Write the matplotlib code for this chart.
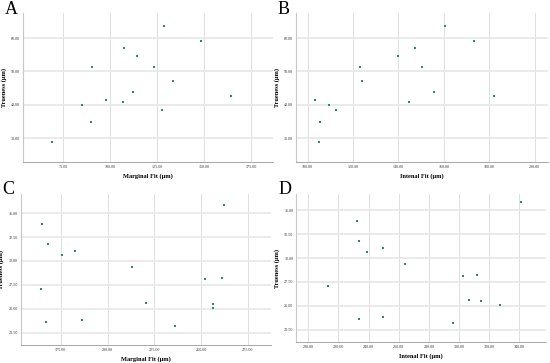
import matplotlib
matplotlib.use("Agg")
import matplotlib.pyplot as plt
from matplotlib.ticker import FixedLocator, FormatStrFormatter

# ---- data ----
trueness_ab = [28.7, 34.9, 38.3, 39.8, 40.9, 41.5, 42.6, 43.7, 47.1, 51.2, 51.2, 54.5, 57.1, 59.2, 63.6]
marginal_a = [68.8, 89.7, 127.5, 84.9, 106.7, 98.0, 164.2, 112.4, 133.7, 90.1, 123.4, 114.4, 107.6, 148.2, 128.4]
internal_b = [104.9, 105.3, 112.4, 109.3, 144.6, 103.2, 182.1, 155.6, 124.1, 123.1, 150.3, 139.7, 147.1, 173.4, 160.4]

trueness_cd = [33.85, 31.75, 30.64, 31.05, 27.04, 23.62, 23.83, 29.41, 25.64, 23.23, 28.12, 28.23, 25.50, 25.12, 35.84]
marginal_c = [164.8, 168.2, 175.4, 182.5, 164.5, 167.0, 186.4, 213.0, 220.6, 236.1, 252.0, 261.1, 256.3, 256.3, 262.2]
internal_d = [232.3, 233.4, 238.8, 249.4, 212.8, 233.4, 249.4, 264.0, 306.5, 296.3, 302.3, 311.8, 314.3, 327.1, 341.1]

xticks_a = [75, 100, 125, 150, 175]
xticks_b = [100, 120, 140, 160, 180, 200]
xticks_c = [175, 200, 225, 250, 275]
xticks_d = [200, 220, 240, 260, 280, 300, 320, 340]
yticks_ab = [30, 40, 50, 60]
yticks_cd = [22.5, 25.0, 27.5, 30.0, 32.5, 35.0]

panels = [
    dict(letter="A", x=marginal_a, y=trueness_ab, xl="Marginal Fit (μm)", xt=xticks_a, yt=yticks_ab,
         xlim=(53.4, 186.7), ylim=(22.8, 67.5), rect=(22.7, 13, 273, 162)),
    dict(letter="B", x=internal_b, y=trueness_ab, xl="Intenal Fit (μm)", xt=xticks_b, yt=yticks_ab,
         xlim=(94.9, 205.9), ylim=(22.8, 67.5), rect=(296, 13, 548, 162)),
    dict(letter="C", x=marginal_c, y=trueness_cd, xl="Marginal Fit (μm)", xt=xticks_c, yt=yticks_cd,
         xlim=(153.6, 287.3), ylim=(21.21, 37.0), rect=(20.7, 194, 271, 345)),
    dict(letter="D", x=internal_d, y=trueness_cd, xl="Intenal Fit (μm)", xt=xticks_d, yt=yticks_cd,
         xlim=(192.0, 357.7), ylim=(21.21, 36.7), rect=(296.3, 194, 546, 342)),
]

W, H = 550, 363
fig = plt.figure(figsize=(W / 100, H / 100), dpi=100)
plt.rcParams['font.family'] = ['Liberation Serif', 'DejaVu Serif']

for p in panels:
    l, t, r, b = p["rect"]
    ax = fig.add_axes([l / W, 1 - b / H, (r - l) / W, (b - t) / H])
    ax.set_xlim(*p["xlim"])
    ax.set_ylim(*p["ylim"])
    ax.xaxis.set_major_locator(FixedLocator(p["xt"]))
    ax.yaxis.set_major_locator(FixedLocator(p["yt"]))
    ax.xaxis.set_major_formatter(FormatStrFormatter("%.2f"))
    ax.yaxis.set_major_formatter(FormatStrFormatter("%.2f"))
    ax.tick_params(length=0, labelsize=3, pad=2, colors="#333333")
    ax.xaxis.grid(True, color="#dedede", linewidth=0.7)
    ax.yaxis.grid(True, color="#e8e8e8", linewidth=1.3)
    ax.set_axisbelow(True)
    for s in ("top", "right"):
        ax.spines[s].set_visible(False)
    ax.spines["left"].set_color("#c8c8c8")
    ax.spines["left"].set_linewidth(0.8)
    ax.spines["bottom"].set_color("#999999")
    ax.spines["bottom"].set_linewidth(0.6)
    ax.scatter(p["x"], p["y"], s=3, marker="s", color="#2f8a5e", linewidths=0, zorder=3)
    ax.set_xlabel(p["xl"], fontsize=4.6, fontweight="bold", labelpad=3)
    ax.set_ylabel("Trueness (μm)", fontsize=4.6, fontweight="bold", labelpad=3)
    fig.text((l - 18) / W, 1 - (t - 4) / H, p["letter"], fontsize=13, ha="left", va="center")

fig.savefig("out.png", dpi=100)
